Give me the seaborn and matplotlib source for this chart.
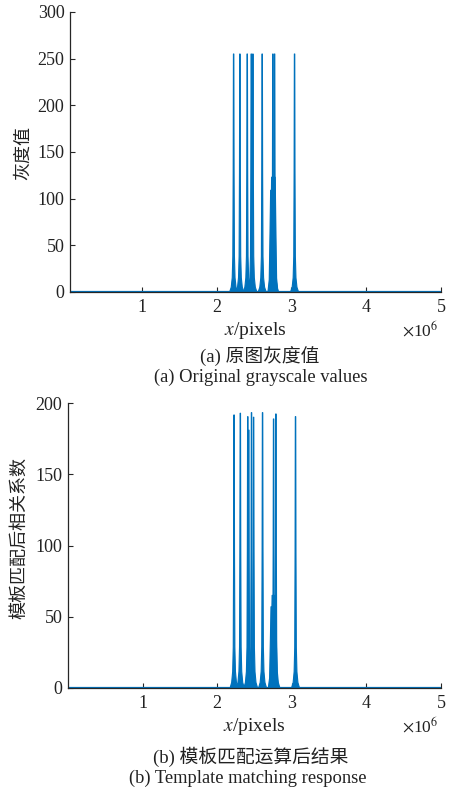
import numpy as np
import pandas as pd
import matplotlib
matplotlib.use("Agg")
import matplotlib.pyplot as plt
import seaborn as sns

# Peak positions (pixels, in units of 1e6) and peak heights for each panel
gray_centers = [2.226, 2.310, 2.408, 2.462, 2.484, 2.608, 2.751, 2.774, 3.041]
gray_heights = [255, 255, 255, 255, 255, 255, 255, 255, 255]
gray_shoulder_centers = [2.745, 2.758]
gray_shoulder_heights = [109, 123]

resp_centers = [2.226, 2.310, 2.410, 2.423, 2.460, 2.488, 2.608, 2.756, 2.787, 3.050]
resp_heights = [191.6, 192.8, 190.4, 181.0, 193.2, 190.0, 193.2, 188.8, 192.3, 190.4]
resp_shoulder_centers = [2.745, 2.760]
resp_shoulder_heights = [57, 65]

x_ticks = [1, 2, 3, 4, 5]
gray_yticks = [0, 50, 100, 150, 200, 250, 300]
resp_yticks = [0, 50, 100, 150, 200]

LINE = "#0072BD"
AX = "#262626"
TXT = "#222222"
SCALE = 1e6
PX = 1.0 / 74.75  # one pixel along x, in units of 1e6

# peak envelope: (fraction of height, half-width in pixels)
SPIKE = [(0.0, 4.0), (0.02, 2.4), (0.06, 1.4), (0.15, 0.8), (0.5, 0.45), (1.0, 0.2)]
BROAD = [(0.0, 4.5), (0.12, 3.2), (0.6, 2.4), (1.0, 1.8)]

sns.set_theme(style="white")
plt.rcParams["font.family"] = ["Liberation Serif", "Noto Sans CJK SC"]
plt.rcParams["mathtext.fontset"] = "stix"
CJK = ["Liberation Serif", "Noto Sans CJK SC"]


def peak_outline(center, height, profile):
    left = [(center - w * PX, f * height) for f, w in profile]
    right = [(center + w * PX, f * height) for f, w in reversed(profile)]
    pts = left + right
    xs = np.array([p[0] for p in pts]) * SCALE
    ys = np.array([p[1] for p in pts])
    return xs, ys


def draw_panel(ax, centers, heights, sh_c, sh_h, xmin, ymax, yticks):
    rows = []
    uid = 0
    for c, h in zip(sh_c, sh_h):
        xs, ys = peak_outline(c, h, BROAD)
        ax.fill(xs, ys, color=LINE, lw=0)
        rows += [dict(x=a, y=b, unit=uid) for a, b in zip(xs, ys)]
        uid += 1
    for c, h in zip(centers, heights):
        xs, ys = peak_outline(c, h, SPIKE)
        ax.fill(xs, ys, color=LINE, lw=0)
        rows += [dict(x=a, y=b, unit=uid) for a, b in zip(xs, ys)]
        uid += 1
    rows += [dict(x=xmin * SCALE, y=0, unit=uid), dict(x=5 * SCALE, y=0, unit=uid)]
    df = pd.DataFrame(rows)
    sns.lineplot(data=df, x="x", y="y", units="unit", estimator=None, sort=False,
                 color=LINE, lw=0.8, ax=ax, legend=False)
    # thicker baseline
    ax.plot([xmin * SCALE, 5 * SCALE], [0, 0], color=LINE, lw=1.6, solid_capstyle="butt")

    ax.set_xlim(xmin * SCALE, 5 * SCALE)
    ax.set_ylim(0, ymax)
    ax.set_xticks([t * SCALE for t in x_ticks])
    ax.set_xticklabels([str(t) for t in x_ticks])
    ax.set_yticks(yticks)
    ax.set_yticklabels([str(t) for t in yticks])
    ax.tick_params(direction="in", length=3.5, width=0.8, colors=AX, labelsize=13,
                   labelcolor=TXT)
    ax.tick_params(axis="x", pad=5)
    ax.tick_params(axis="y", pad=4)
    ax.tick_params(bottom=True, left=True)
    for s in ["top", "right"]:
        ax.spines[s].set_visible(False)
    for s in ["left", "bottom"]:
        ax.spines[s].set_color(AX)
        ax.spines[s].set_linewidth(0.9)
    ax.set_xlabel("$x$/pixels", fontsize=14, labelpad=3, color=TXT)
    ax.set_ylabel("")
    ax.set_facecolor("white")


W, H = 458, 791
fig = plt.figure(figsize=(W / 100, H / 100), dpi=100)


def axes_px(l, r, top, bottom):
    return fig.add_axes([l / W, 1 - bottom / H, (r - l) / W, (bottom - top) / H])


ax1 = axes_px(70, 441, 12, 292)
draw_panel(ax1, gray_centers, gray_heights, gray_shoulder_centers, gray_shoulder_heights,
           0.037, 300, gray_yticks)
ax2 = axes_px(68, 441, 403, 688)
draw_panel(ax2, resp_centers, resp_heights, resp_shoulder_centers, resp_shoulder_heights,
           0.0, 200, resp_yticks)

# axis titles
fig.text(23 / W, 1 - 153 / H, "灰度值", rotation=90, ha="center", va="center",
         fontsize=13, family=["Noto Sans CJK SC"], color=TXT)
fig.text(19 / W, 1 - 538 / H, "模板匹配后相关系数", rotation=90, ha="center", va="center",
         fontsize=13, family=["Noto Sans CJK SC"], color=TXT)

# exponent labels
for y in (330, 726):
    fig.text(420 / W, 1 - y / H, r"$\times$10$^{6}$", ha="center", va="center",
             fontsize=12.5, color=TXT)

# captions
fig.text(260 / W, 1 - 357 / H, "(a) 原图灰度值", ha="center", va="center",
         fontsize=13.5, family=CJK, color=TXT)
fig.text(261 / W, 1 - 377 / H, "(a) Original grayscale values", ha="center", va="center",
         fontsize=13.3, color=TXT)
fig.text(251 / W, 1 - 757 / H, "(b) 模板匹配运算后结果", ha="center", va="center",
         fontsize=13.5, family=CJK, color=TXT)
fig.text(248 / W, 1 - 778 / H, "(b) Template matching response", ha="center", va="center",
         fontsize=13.3, color=TXT)

fig.savefig("out.png", dpi=100, facecolor="white")
